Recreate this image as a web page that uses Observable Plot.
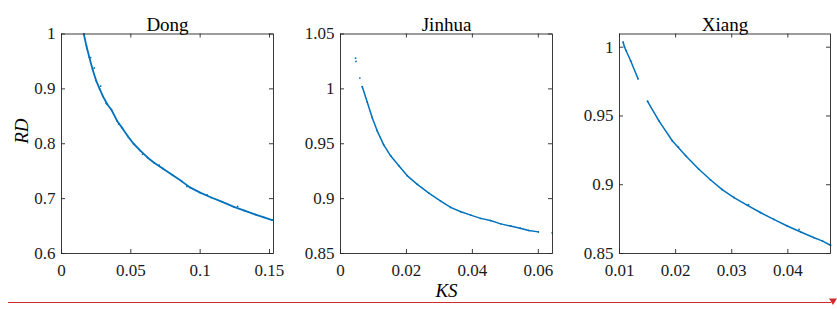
<!DOCTYPE html>
<html><head><meta charset="utf-8">
<script src="https://cdn.jsdelivr.net/npm/d3@7"></script>
<script src="https://cdn.jsdelivr.net/npm/@observablehq/plot@0.6"></script>
<style>
html,body{margin:0;padding:0;background:#fff;}
#chart{position:relative;width:837px;height:309px;overflow:hidden;font-family:"Liberation Serif","Times New Roman",serif;}
#chart > svg{position:absolute;top:0;}
#chart svg text{font-family:"Liberation Serif",serif !important;}
</style></head><body><div id="chart"></div>
<script>
// ---- data ----
const panelTitles = ["Dong", "Jinhua", "Xiang"];
const xAxisLabel = "KS";
const yAxisLabel = "RD";

// Dong
const dongKS = [0.0161,0.0180,0.0200,0.0225,0.0250,0.0275,0.0300,0.0330,0.0360,0.0400,0.0440,0.0480,0.0520,0.0570,0.0620,0.0670,0.0730,0.0800,0.0870,0.0930,0.1000,0.1080,0.1160,0.1243,0.1320,0.1400,0.1460,0.1520];
const dongRD = [1.000,0.978,0.958,0.935,0.915,0.900,0.886,0.872,0.862,0.842,0.828,0.813,0.800,0.787,0.775,0.765,0.755,0.743,0.731,0.720,0.711,0.702,0.694,0.685,0.678,0.671,0.666,0.661];
const dongScatterKS = [0.0185,0.0210,0.0236,0.0282,0.0322,0.0412,0.0585,0.0705,0.0905,0.1050,0.1270];
const dongScatterRD = [0.972,0.957,0.938,0.905,0.874,0.836,0.781,0.761,0.722,0.707,0.686];

// Jinhua
const jinhuaKS = [0.0066,0.0081,0.0096,0.0111,0.0131,0.0152,0.0177,0.0202,0.0233,0.0268,0.0303,0.0334,0.0365,0.0395,0.0425,0.0455,0.0486,0.0516,0.0545,0.0571,0.0600];
const jinhuaRD = [1.002,0.988,0.974,0.962,0.949,0.939,0.930,0.921,0.913,0.905,0.898,0.892,0.888,0.885,0.882,0.880,0.877,0.875,0.873,0.871,0.8697];
const jinhuaScatterKS = [0.00455,0.0047,0.00587,0.0642];
const jinhuaScatterRD = [1.028,1.025,1.0098,0.8688];

// Xiang (two separate runs of points)
const xiangKS = [0.01065,0.0109,0.0120,0.0133, 0.0150,0.0170,0.0194,0.0218,0.0241,0.0262,0.0283,0.0304,0.0328,0.0351,0.0375,0.0399,0.0423,0.0446,0.0462,0.0476];
const xiangRD = [1.0036,1.000,0.990,0.977, 0.9607,0.9466,0.9320,0.9211,0.9114,0.9036,0.8965,0.8907,0.8850,0.8798,0.8748,0.8700,0.8656,0.8616,0.8590,0.8560];
const xiangRun = [0,0,0,0, 1,1,1,1,1,1,1,1,1,1,1,1,1,1,1,1];
const xiangScatterKS = [0.0112,0.0205,0.0330,0.0420];
const xiangScatterRD = [0.9975,0.9275,0.8855,0.8675];

// axes
const dongXDomain = [0, 0.1529], dongYDomain = [0.6, 1.0];
const jinhuaXDomain = [0, 0.0643], jinhuaYDomain = [0.85, 1.05];
const xiangXDomain = [0.01, 0.0476], xiangYDomain = [0.85, 1.0096];
const dongXTicks = [0, 0.05, 0.1, 0.15], dongYTicks = [0.6, 0.7, 0.8, 0.9, 1];
const jinhuaXTicks = [0, 0.02, 0.04, 0.06], jinhuaYTicks = [0.85, 0.9, 0.95, 1, 1.05];
const xiangXTicks = [0.01, 0.02, 0.03, 0.04], xiangYTicks = [0.85, 0.9, 0.95, 1];

// ---- drawing ----
const blue = "#0072BD", axisColor = "#262626";
const serif = "Liberation Serif";
const fmt = d => String(+(+d).toFixed(4));

function panel(o) {
  const mL = 56, mR = 6, mT = 33.5, mB = 56, H = 309;
  const fh = H - mT - mB, fw = o.frameW, tl = 4;
  const pts = o.ks.map((k, i) => ({ks: k, rd: o.rd[i], run: o.run ? o.run[i] : 0}));
  const extra = o.sKS.map((k, i) => ({ks: k, rd: o.sRD[i]}));
  const marks = [
    Plot.line(pts, {x: "ks", y: "rd", z: "run", stroke: blue, strokeWidth: o.lw || 1.5}),
    Plot.dot(pts.concat(extra), {x: "ks", y: "rd", r: 0.9, fill: blue, stroke: null}),
    Plot.frame({stroke: axisColor, strokeWidth: 0.9}),
    Plot.tickX(o.xTicks, {x: d => d, insetTop: fh - tl, stroke: axisColor, strokeWidth: 0.9}),
    Plot.tickX(o.xTicks, {x: d => d, insetBottom: fh - tl, stroke: axisColor, strokeWidth: 0.9}),
    Plot.tickY(o.yTicks, {y: d => d, insetRight: fw - tl, stroke: axisColor, strokeWidth: 0.9}),
    Plot.tickY(o.yTicks, {y: d => d, insetLeft: fw - tl, stroke: axisColor, strokeWidth: 0.9}),
    Plot.axisX({ticks: o.xTicks, tickSize: 0, tickPadding: 10, tickFormat: fmt, label: null, fontSize: 17, fontFamily: serif, fill: "#1a1a1a"}),
    Plot.axisY({ticks: o.yTicks, tickSize: 0, tickPadding: 6, tickFormat: fmt, label: null, fontSize: 17, fontFamily: serif, fill: "#1a1a1a"}),
    Plot.text([o.title], {frameAnchor: "top", lineAnchor: "bottom", dy: -3.5, fontSize: 19, fontFamily: serif, fill: "#000"})
  ];
  if (o.ylabel) marks.push(Plot.text([o.ylabel], {frameAnchor: "left", rotate: -90, dx: -40, fontSize: 19, fontFamily: serif, fontStyle: "italic", fill: "#000"}));
  if (o.xlabel) marks.push(Plot.text([o.xlabel], {frameAnchor: "bottom", lineAnchor: "middle", dy: 37, fontSize: 19, fontFamily: serif, fontStyle: "italic", fill: "#000"}));
  const svg = Plot.plot({
    width: mL + fw + mR, height: H,
    marginLeft: mL, marginRight: mR, marginTop: mT, marginBottom: mB,
    x: {domain: o.xDomain, label: null},
    y: {domain: o.yDomain, label: null},
    style: {fontFamily: serif, fontSize: "17px", color: axisColor, background: "transparent", overflow: "visible"},
    marks
  });
  svg.style.left = o.left + "px";
  return svg;
}

const chart = document.getElementById("chart");
chart.append(panel({title: panelTitles[0], ks: dongKS, rd: dongRD, sKS: dongScatterKS, sRD: dongScatterRD, lw: 1.8,
  xDomain: dongXDomain, yDomain: dongYDomain, xTicks: dongXTicks, yTicks: dongYTicks, left: 5, frameW: 212, ylabel: yAxisLabel}));
chart.append(panel({title: panelTitles[1], ks: jinhuaKS, rd: jinhuaRD, sKS: jinhuaScatterKS, sRD: jinhuaScatterRD, lw: 1.5,
  xDomain: jinhuaXDomain, yDomain: jinhuaYDomain, xTicks: jinhuaXTicks, yTicks: jinhuaYTicks, left: 284, frameW: 212, xlabel: xAxisLabel}));
chart.append(panel({title: panelTitles[2], ks: xiangKS, rd: xiangRD, run: xiangRun, sKS: xiangScatterKS, sRD: xiangScatterRD, lw: 1.5,
  xDomain: xiangXDomain, yDomain: xiangYDomain, xTicks: xiangXTicks, yTicks: xiangYTicks, left: 563, frameW: 211}));

// red guide line with arrowhead along the bottom edge
const ns = "http://www.w3.org/2000/svg";
const deco = document.createElementNS(ns, "svg");
deco.setAttribute("width", 837); deco.setAttribute("height", 309);
deco.style.left = "0px"; deco.style.pointerEvents = "none";
const ln = document.createElementNS(ns, "line");
ln.setAttribute("x1", 8); ln.setAttribute("x2", 831); ln.setAttribute("y1", 302.5); ln.setAttribute("y2", 302.5);
ln.setAttribute("stroke", "#d42a2f"); ln.setAttribute("stroke-width", 1.2);
const tri = document.createElementNS(ns, "polygon");
tri.setAttribute("points", "829,298.5 837,298.5 833,305");
tri.setAttribute("fill", "#d42a2f");
deco.append(ln, tri);
chart.append(deco);
</script></body></html>
